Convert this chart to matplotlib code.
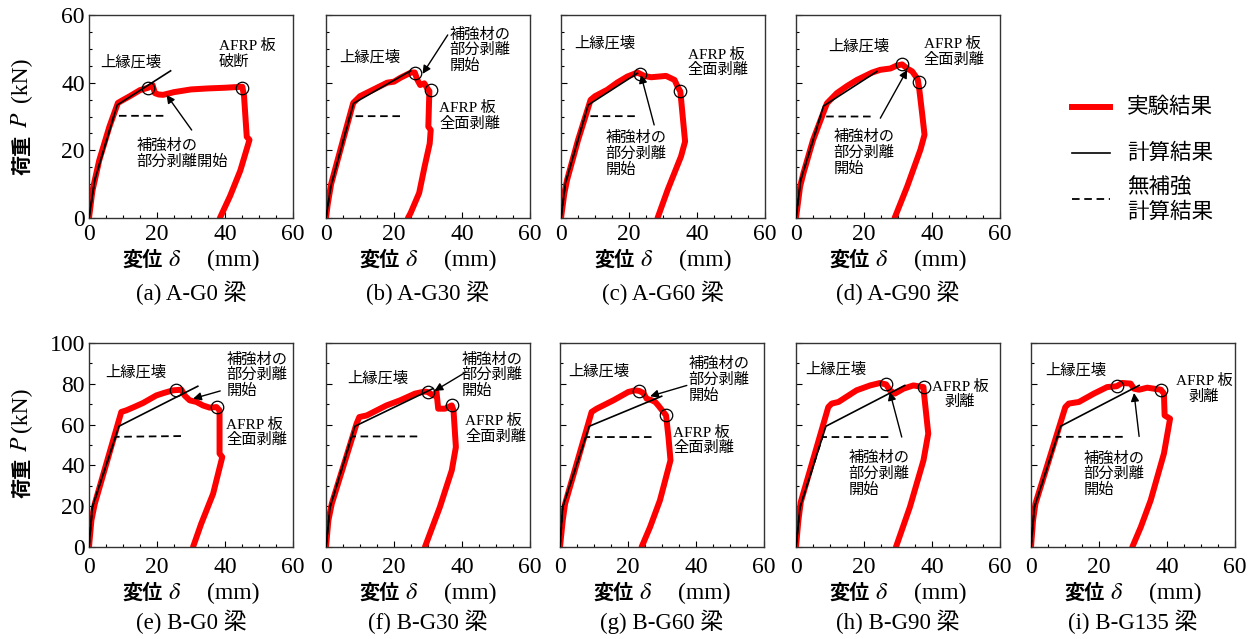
import matplotlib
matplotlib.use("Agg")
import matplotlib.pyplot as plt
from matplotlib.lines import Line2D
from matplotlib.ticker import MultipleLocator

plt.rcParams['font.family'] = ['Liberation Serif', 'Noto Sans CJK JP']
plt.rcParams['mathtext.fontset'] = 'stix'

JP = 'Noto Sans CJK JP'
RED = '#FF0000'

# ---- data (displacement mm, load kN) ----
# (a) A-G0
a_exp_x = [0, 1.0, 3.0, 6.0, 8.5, 9.5, 12, 15, 17.4, 18.7, 19.4, 20.5, 21.8, 25, 30, 35, 40, 45.1, 45.6, 46.0, 46.4, 47.2, 44.5, 41.5, 38.5]
a_exp_y = [0, 8, 17, 27, 34, 34.6, 36, 37.8, 38.5, 39.3, 36.9, 36.5, 36.4, 37.2, 38, 38.3, 38.5, 38.8, 36, 30, 24, 23.1, 14, 6.5, 0]
a_calc_x = [0, 1.7, 8.3, 24.0]
a_calc_y = [0, 11.3, 33.4, 43.5]
a_unr_x = [0, 1.7, 7.3, 22.3]
a_unr_y = [0, 11.3, 30.2, 30.2]
a_mark_x = [17.4, 45.1]
a_mark_y = [38.5, 38.5]

# (b) A-G30
b_exp_x = [0, 0.5, 1.5, 5, 8, 10, 13, 15, 18, 20, 22, 25, 26.1, 26.9, 27.7, 28.9, 29.8, 30.4, 30.1, 30.8, 30.5, 29.0, 27.4, 24.9, 24.1]
b_exp_y = [0, 4, 10, 23, 34, 36, 37.5, 38.5, 40, 40.3, 41.5, 43, 43, 40.8, 39.3, 39.8, 38.3, 37.5, 27, 26, 22, 15.2, 7.4, 1.5, 0]
b_calc_x = [0, 1.4, 8.1, 24.9]
b_calc_y = [0, 9.3, 33.9, 43.5]
b_unr_x = [0, 1.4, 7.0, 21.9]
b_unr_y = [0, 9.3, 30.1, 30.1]
b_mark_x = [26.1, 30.8]
b_mark_y = [43.0, 37.9]

# (c) A-G60
c_exp_x = [0, 1.0, 1.8, 5, 8.7, 10, 13.6, 16.5, 19.5, 22.5, 24.5, 26.5, 30.9, 33.4, 34.3, 35.1, 35.8, 36.5, 35.3, 31.4, 28.4]
c_exp_y = [0, 7.4, 11.3, 23, 34.9, 36, 37.9, 40, 41.8, 43, 42, 41.6, 42, 40.8, 38.8, 37.4, 30, 22.6, 18.2, 8.4, 0]
c_calc_x = [0, 1.3, 8.0, 22.5]
c_calc_y = [0, 10.3, 33.4, 42.8]
c_unr_x = [0, 1.3, 7.0, 22.2]
c_unr_y = [0, 10.3, 30.1, 30.1]
c_mark_x = [23.3, 35.1]
c_mark_y = [42.6, 37.4]

# (d) A-G90
d_exp_x = [0, 1.2, 2.2, 5, 9.1, 12, 15, 17.9, 22.4, 24.8, 27.8, 29.5, 31.2, 32.7, 34.2, 35.8, 36.2, 36.5, 37.2, 37.8, 36.6, 32.7, 29.0]
d_exp_y = [0, 9.3, 13.3, 23, 33.9, 36.9, 39, 40.8, 43, 43.8, 44.2, 45, 45.4, 44.2, 43.3, 41.0, 38.5, 36.0, 30, 24.6, 20.2, 9.3, 0]
d_calc_x = [0, 1.4, 8.1, 23.8]
d_calc_y = [0, 11.3, 33.1, 43.3]
d_unr_x = [0, 1.4, 7.2, 22.4]
d_unr_y = [0, 11.3, 30.0, 30.0]
d_mark_x = [31.2, 36.2]
d_mark_y = [45.4, 40.3]

# (e) B-G0
e_exp_x = [0, 0.7, 1.7, 9.5, 11, 13.5, 15.9, 19.8, 22, 24.7, 27.2, 28.1, 29.6, 31.6, 33.5, 35.5, 37.5, 38.4, 38.4, 39.2, 36.5, 33.0, 30.6]
e_exp_y = [0, 13, 21.2, 66.2, 67, 68.8, 70.6, 74.3, 75.5, 76.8, 77.1, 74.3, 71.9, 71.1, 69.4, 68.3, 68.6, 67, 45.8, 44.1, 26.1, 11.4, 0]
e_calc_x = [0, 1.0, 8.8, 32.0]
e_calc_y = [0, 19.6, 59.2, 78.8]
e_unr_x = [0, 1.0, 7.8, 27.6]
e_unr_y = [0, 19.6, 54.0, 54.4]
e_mark_x = [25.7, 37.5]
e_mark_y = [77.1, 68.6]

# (f) B-G30
f_exp_x = [0, 0.7, 1.7, 9.0, 9.8, 12, 17.8, 21.8, 26.2, 29.0, 29.9, 31.6, 32.5, 33.0, 35.0, 37.0, 37.5, 38.2, 37.0, 33.5, 29.1]
f_exp_y = [0, 13, 21.2, 60.5, 63.7, 64.5, 69.4, 71.9, 75.2, 76.2, 76, 74.3, 76, 67.8, 67.8, 69.4, 67, 49, 37.6, 19.6, 0]
f_calc_x = [0, 1.2, 8.5, 31.4]
f_calc_y = [0, 19.6, 59.2, 77.6]
f_unr_x = [0, 1.2, 7.6, 27.5]
f_unr_y = [0, 19.6, 54.2, 54.2]
f_mark_x = [29.9, 37.0]
f_mark_y = [76.0, 69.4]

# (g) B-G60
g_exp_x = [0, 0.8, 1.5, 9.3, 10.8, 15.7, 20.1, 22.1, 23.3, 24.5, 25.5, 27, 28, 28.9, 30.5, 31.2, 31.9, 32.5, 29.4, 26.5, 24.0]
g_exp_y = [0, 13, 21.2, 66.2, 67.8, 71.9, 76, 76.8, 76.5, 75.5, 72.7, 71.9, 71.1, 69.4, 66, 64.5, 53.9, 42.5, 22.9, 9.8, 0]
g_calc_x = [0, 0.8, 8.6, 29.9]
g_calc_y = [0, 19.6, 59.2, 73.9]
g_unr_x = [0, 0.8, 7.6, 27.5]
g_unr_y = [0, 19.6, 53.9, 53.9]
g_mark_x = [23.3, 31.2]
g_mark_y = [76.5, 64.5]

# (h) B-G90
h_exp_x = [0, 0.7, 1.4, 9.5, 10.5, 12.5, 17.8, 21.8, 24.7, 26.5, 27.6, 29.1, 31.6, 34.5, 37.5, 37.6, 38.9, 37.5, 33.5, 29.4]
h_exp_y = [0, 13, 22, 68.6, 70.3, 71.1, 76.8, 79.2, 80.4, 79.7, 76.8, 75.2, 77.6, 79.2, 78.4, 76, 55.6, 42.5, 19.6, 0]
h_calc_x = [0, 1.2, 8.8, 32.0]
h_calc_y = [0, 19.6, 59.2, 79.2]
h_unr_x = [0, 1.2, 7.8, 27.6]
h_unr_y = [0, 19.6, 53.9, 53.9]
h_mark_x = [26.5, 37.5]
h_mark_y = [79.7, 78.4]

# (i) B-G135
i_exp_x = [0, 0.6, 1.3, 10.1, 11.1, 14.1, 18.5, 22.4, 25.2, 26.8, 29.3, 30.3, 31.8, 34.2, 38.2, 39.1, 39.3, 40.9, 39.1, 35.2, 32.3, 29.8]
i_exp_y = [0, 13, 21.2, 68.6, 70.3, 71.1, 75.2, 78.4, 78.8, 80.4, 80.1, 77.6, 77.1, 78.1, 77.1, 75.2, 64.5, 62.9, 45.8, 22.9, 9.8, 0]
i_calc_x = [0, 1.0, 8.7, 31.8]
i_calc_y = [0, 19.6, 59.2, 79.2]
i_unr_x = [0, 1.0, 7.7, 27.3]
i_unr_y = [0, 19.6, 54.0, 54.0]
i_mark_x = [25.2, 38.2]
i_mark_y = [78.8, 77.1]

captions = ['(a) A-G0 梁', '(b) A-G30 梁', '(c) A-G60 梁', '(d) A-G90 梁',
            '(e) B-G0 梁', '(f) B-G30 梁', '(g) B-G60 梁', '(h) B-G90 梁', '(i) B-G135 梁']

# ---- layout ----
W, H = 1257, 639
fig = plt.figure(figsize=(W / 100, H / 100), dpi=100)


def add_ax(left, top, w, h):
    return fig.add_axes([left / W, 1 - (top + h) / H, w / W, h / H])


def style(ax, ymax, ymin_step, show_y):
    ax.set_xlim(0, 60)
    ax.set_ylim(0, ymax)
    ax.set_xticks([0, 20, 40, 60])
    ax.set_yticks(range(0, ymax + 1, 20))
    ax.xaxis.set_minor_locator(MultipleLocator(5))
    ax.yaxis.set_minor_locator(MultipleLocator(ymin_step))
    ax.tick_params(which='both', direction='in', top=False, right=False, labelsize=17)
    ax.tick_params(which='major', length=4, width=0.8)
    ax.tick_params(which='minor', length=2.5, width=0.8)
    ax.tick_params(axis='y', pad=3)
    if not show_y:
        ax.set_yticklabels([])
    for s in ax.spines.values():
        s.set_color('#333333')
        s.set_linewidth(1.0)


def curves(ax, ex, ey, cx, cy, ux, uy, mx, my):
    ax.plot(ex, ey, color=RED, lw=4.3, solid_joinstyle='round', solid_capstyle='round', zorder=2)
    ax.plot(ux, uy, color='k', lw=1.3, ls=(0, (4.2, 2.6)), zorder=3)
    ax.plot(cx, cy, color='k', lw=1.2, zorder=3)
    ax.plot(mx, my, ls='none', marker='o', ms=9, mfc='none', mec='k', mew=0.9, zorder=4)


def labels(ax, cap, base_y, cap_y, show_y, yl):
    kw = dict(transform=ax.transAxes, va='baseline')
    ax.text(0.363, base_y, '変位', ha='right', fontsize=14.5, family=JP, fontweight='bold', **kw)
    ax.text(0.387, base_y, r'$\delta$', ha='left', fontsize=17.5, **kw)
    ax.text(0.578, base_y, '(mm)', ha='left', fontsize=17, **kw)
    ax.text(0.5, cap_y, cap, transform=ax.transAxes, ha='center', va='center', fontsize=16.5)
    if show_y:
        x0 = -0.33
        kw = dict(transform=ax.transAxes, rotation=90, ha='center', va='bottom')
        ax.text(x0, yl[0], '荷重', fontsize=14.5, family=JP, fontweight='bold', **kw)
        ax.text(x0, yl[1], r'$P$', fontsize=17, **kw)
        ax.text(x0, yl[2], '(kN)', fontsize=17, **kw)


def note(ax, x, y, s, ha='left'):
    ax.text(x, y, s, ha=ha, va='center', fontsize=11, linespacing=1.15, multialignment=ha, zorder=5)


def arrow(ax, tail, tip):
    ax.annotate('', xy=tip, xytext=tail,
                arrowprops=dict(arrowstyle='-|>', color='k', lw=1.0, mutation_scale=12, shrinkA=0, shrinkB=0))


top_lefts = [89, 326, 561, 796]
bot_lefts = [89, 326, 560, 796, 1031]
top_data = [
    (a_exp_x, a_exp_y, a_calc_x, a_calc_y, a_unr_x, a_unr_y, a_mark_x, a_mark_y),
    (b_exp_x, b_exp_y, b_calc_x, b_calc_y, b_unr_x, b_unr_y, b_mark_x, b_mark_y),
    (c_exp_x, c_exp_y, c_calc_x, c_calc_y, c_unr_x, c_unr_y, c_mark_x, c_mark_y),
    (d_exp_x, d_exp_y, d_calc_x, d_calc_y, d_unr_x, d_unr_y, d_mark_x, d_mark_y),
]
bot_data = [
    (e_exp_x, e_exp_y, e_calc_x, e_calc_y, e_unr_x, e_unr_y, e_mark_x, e_mark_y),
    (f_exp_x, f_exp_y, f_calc_x, f_calc_y, f_unr_x, f_unr_y, f_mark_x, f_mark_y),
    (g_exp_x, g_exp_y, g_calc_x, g_calc_y, g_unr_x, g_unr_y, g_mark_x, g_mark_y),
    (h_exp_x, h_exp_y, h_calc_x, h_calc_y, h_unr_x, h_unr_y, h_mark_x, h_mark_y),
    (i_exp_x, i_exp_y, i_calc_x, i_calc_y, i_unr_x, i_unr_y, i_mark_x, i_mark_y),
]

axes = []
for k, (left, d) in enumerate(zip(top_lefts, top_data)):
    ax = add_ax(left, 15, 204, 203)
    style(ax, 60, 5, k == 0)
    ax.tick_params(axis='x', pad=4)
    curves(ax, *d)
    labels(ax, captions[k], -0.236, -0.369, k == 0, (0.212, 0.443, 0.571))
    axes.append(ax)
for k, (left, d) in enumerate(zip(bot_lefts, bot_data)):
    ax = add_ax(left, 343, 204, 204)
    style(ax, 100, 10, k == 0)
    ax.tick_params(axis='x', pad=7)
    curves(ax, *d)
    labels(ax, captions[4 + k], -0.255, -0.368, k == 0, (0.24, 0.466, 0.564))
    axes.append(ax)

ax_a, ax_b, ax_c, ax_d, ax_e, ax_f, ax_g, ax_h, ax_i = axes

# ---- annotations ----
note(ax_a, 3.2, 45.9, '上縁圧壊')
note(ax_a, 38.1, 48.4, 'AFRP 板\n破断')
note(ax_a, 14.0, 18.9, '補強材の\n部分剥離開始')
arrow(ax_a, (30.2, 26.0), (22.8, 36.4))

note(ax_b, 4.0, 47.5, '上縁圧壊')
note(ax_b, 36.3, 49.6, '補強材の\n部分剥離\n開始')
note(ax_b, 33.3, 30.2, 'AFRP 板\n全面剥離')
arrow(ax_b, (35.8, 54.1), (28.4, 42.6))

note(ax_c, 3.8, 51.6, '上縁圧壊')
note(ax_c, 37.3, 46.0, 'AFRP 板\n全面剥離')
note(ax_c, 13.1, 19.0, '補強材の\n部分剥離\n開始')
arrow(ax_c, (27.4, 27.5), (23.5, 42.3))

note(ax_d, 9.6, 50.8, '上縁圧壊')
note(ax_d, 37.6, 49.1, 'AFRP 板\n全面剥離')
note(ax_d, 11.0, 19.2, '補強材の\n部分剥離\n開始')
arrow(ax_d, (24.8, 29.5), (32.7, 43.8))

note(ax_e, 4.9, 85.8, '上縁圧壊')
note(ax_e, 40.4, 84.2, '補強材の\n部分剥離\n開始')
note(ax_e, 40.4, 56.2, 'AFRP 板\n全面剥離')
arrow(ax_e, (38.6, 76.5), (30.6, 72.7))

note(ax_f, 6.1, 82.5, '上縁圧壊')
note(ax_f, 39.9, 84.2, '補強材の\n部分剥離\n開始')
note(ax_f, 40.9, 57.8, 'AFRP 板\n全面剥離')
arrow(ax_f, (41.2, 85.8), (31.9, 76.5))

note(ax_g, 2.5, 86.3, '上縁圧壊')
note(ax_g, 37.7, 82.0, '補強材の\n部分剥離\n開始')
note(ax_g, 33.3, 52.2, 'AFRP 板\n全面剥離')
arrow(ax_g, (37.3, 79.2), (26.5, 73.9))

note(ax_h, 2.6, 86.9, '上縁圧壊')
note(ax_h, 48.3, 74.8, 'AFRP 板\n剥離', ha='center')
note(ax_h, 15.4, 35.9, '補強材の\n部分剥離\n開始')
arrow(ax_h, (31.1, 53.9), (27.6, 76.0))

note(ax_i, 4.2, 86.6, '上縁圧壊')
note(ax_i, 50.9, 77.6, 'AFRP 板\n剥離', ha='center')
note(ax_i, 15.5, 35.7, '補強材の\n部分剥離\n開始')
arrow(ax_i, (31.8, 54.2), (30.3, 75.5))

# ---- legend (drawn by hand to match the layout) ----
def fx(px):
    return px / W


def fy(py):
    return 1 - py / H


fig.add_artist(Line2D([fx(1072), fx(1110)], [fy(107), fy(107)], color=RED, lw=4.3))
fig.add_artist(Line2D([fx(1072), fx(1110)], [fy(153), fy(153)], color='k', lw=1.2))
fig.add_artist(Line2D([fx(1072), fx(1110)], [fy(199), fy(199)], color='k', lw=1.3, ls=(0, (4.2, 2.6))))
for txt, py in [('実験結果', 107), ('計算結果', 153), ('無補強', 187), ('計算結果', 212)]:
    fig.text(fx(1127), fy(py), txt, ha='left', va='center', fontsize=15.5, family=JP)

fig.savefig('out.png', dpi=100, facecolor='white')
